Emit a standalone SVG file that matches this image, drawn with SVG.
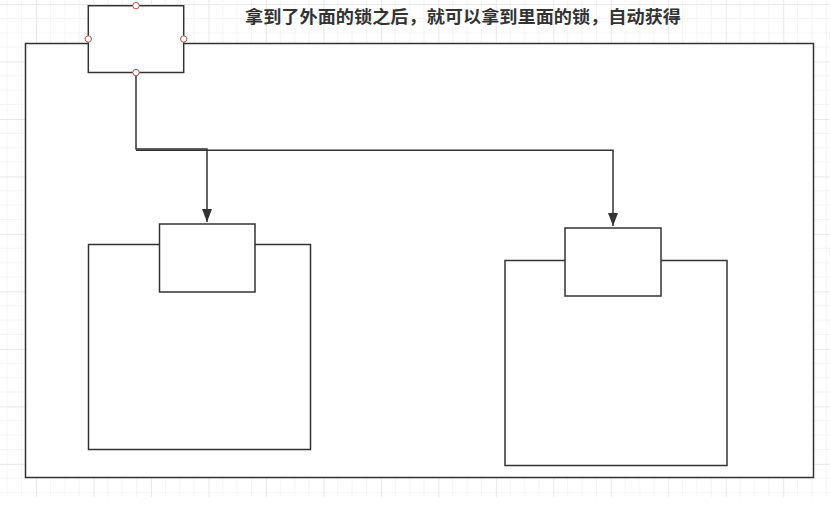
<svg xmlns="http://www.w3.org/2000/svg" width="830" height="505" viewBox="0 0 830 505">
<style>
.box{fill:#ffffff;stroke:#333333;stroke-width:1.5}
.edge{fill:none;stroke:#333333;stroke-width:1.5}
.handle{fill:#ffffff;stroke:#b85450;stroke-width:1}
.title{font-family:"Noto Sans CJK SC","Noto Sans CJK JP",sans-serif;font-size:17px;font-weight:bold;fill:#333333}
</style>
<defs>
<pattern id="grid" patternUnits="userSpaceOnUse" x="-21.48" y="4" width="57.48" height="57.48">
<path d="M14.37 0V57.48M28.74 0V57.48M43.11 0V57.48M0 14.37H57.48M0 28.74H57.48M0 43.11H57.48" stroke="#f3f3f3" stroke-width="1" fill="none"/>
<path d="M0.5 0V57.48M0 0.5H57.48" stroke="#e8e8e8" stroke-width="1" fill="none"/>
</pattern>
<marker id="arrow" markerWidth="10" markerHeight="14" refX="5" refY="13" orient="0" markerUnits="userSpaceOnUse">
<path d="M0 0L10 0L5 13Z" fill="#333333"/>
</marker>
</defs>
<rect x="0" y="0" width="830" height="505" fill="#ffffff"/>
<rect x="0" y="0" width="830" height="497" fill="url(#grid)"/>
<text class="title" x="463" y="23" text-anchor="middle" textLength="436" lengthAdjust="spacingAndGlyphs">拿到了外面的锁之后，就可以拿到里面的锁，自动获得</text>
<g id="outer"><rect class="box" x="25.5" y="43.5" width="788" height="434"/></g>
<g id="leftBig"><rect class="box" x="88.5" y="244.5" width="222" height="205"/></g>
<g id="rightBig"><rect class="box" x="505" y="260.5" width="222" height="205"/></g>
<g id="leftSmall"><rect class="box" x="159.5" y="224" width="95.5" height="68"/></g>
<g id="rightSmall"><rect class="box" x="565" y="228" width="96" height="68"/></g>
<g id="topLock">
<rect class="box" x="88.3" y="5.7" width="95.4" height="66.8"/>
<circle class="handle" cx="136" cy="5.7" r="3.2"/>
<circle class="handle" cx="88.3" cy="39" r="3.2"/>
<circle class="handle" cx="183.7" cy="39" r="3.2"/>
</g>
<g id="connectors">
<path class="edge" d="M136 72.5V149H207V222" marker-end="url(#arrow)"/>
<path class="edge" d="M136 150.3H613V226" marker-end="url(#arrow)"/>
</g>
<circle class="handle" cx="136" cy="72.5" r="3.2"/>
</svg>
